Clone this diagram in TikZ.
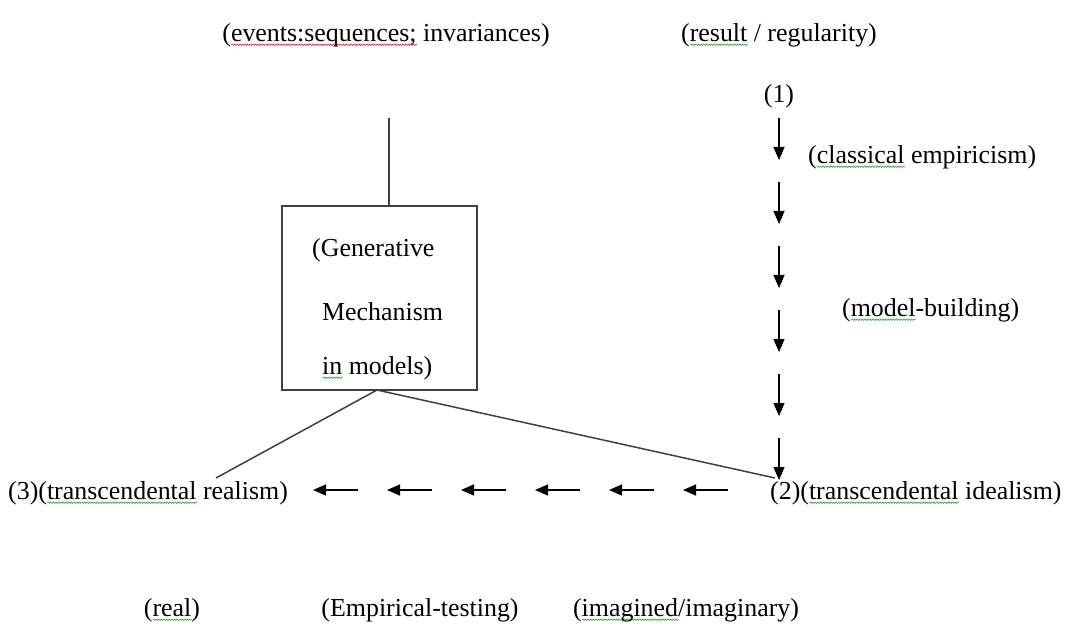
\documentclass[tikz,border=0pt]{standalone}
\usepackage{fontspec}
\setmainfont{Liberation Serif}
\usepackage{tikz}
\usetikzlibrary{positioning, arrows.meta, decorations.pathmorphing}

\definecolor{spellred}{RGB}{215,60,60}
\definecolor{spellgreen}{RGB}{70,165,70}
% wavy spell-check underline under one word
\newcommand{\wavy}[2]{\setbox0=\hbox{#2}\rlap{\tikz[baseline=0pt]\draw[#1, line width=0.7pt,
  decorate, decoration={snake, amplitude=0.7pt, segment length=2.6pt}] (0,-3.5pt) -- (\the\wd0,-3.5pt);}#2}

\begin{document}
\begin{tikzpicture}[x=1bp, y=-1bp,
    lbl/.style={inner sep=0pt, font=\fontsize{26}{30}\selectfont},
    gmbox/.style={draw=black!75, line width=1.5bp, minimum width=195bp, minimum height=184bp},
    link/.style={draw=black!75, line width=1.5bp},
    arr/.style={-{Triangle[length=13bp, width=11bp]}, line width=1.2bp}
  ]
    \useasboundingbox (0,0) rectangle (1076,639);
    % top labels
    \node[lbl] (ev) at (386,35) {(\wavy{spellred}{events:sequences;} invariances)};
    \node[lbl] (res) at (779,35) {(\wavy{spellgreen}{result} / regularity)};
    \node[lbl] (one) at (779,96) {(1)};
    \node[lbl, anchor=west] (clas) at (808,157) {(\wavy{spellgreen}{classical} empiricism)};
    \node[lbl, anchor=west] (mod) at (842,310) {(\wavy{spellgreen}{model}-building)};
    % generative mechanism box
    \node[gmbox] (gm) at (379.5,298) {};
    \node[lbl, anchor=west] (g1) at (312,250) {(Generative};
    \node[lbl, anchor=west] (g2) at (322,312) {Mechanism};
    \node[lbl, anchor=west] (g3) at (322,368) {\wavy{spellgreen}{in} models)};
    \coordinate (top) at (389,118);
    \draw[link] (gm.north -| top) -- (top);
    \coordinate (apex) at (377,390);
    \coordinate (lend) at (216,478);
    \coordinate (rend) at (775,478);
    \draw[link] (lend) -- (apex) -- (rend);
    % row
    \node[lbl, anchor=west] (three) at (8,493) {(3)(\wavy{spellgreen}{transcendental} realism)};
    \node[lbl, anchor=west] (two) at (770,493) {(2)(\wavy{spellgreen}{transcendental} idealism)};
    \foreach \k in {0,...,5}{
      \coordinate (va\k) at (779,118+64*\k);
      \coordinate (vb\k) at (779,160+64*\k);
      \draw[arr] (va\k) -- (vb\k);
      \coordinate (ha\k) at (313+74*\k,490);
      \coordinate (hb\k) at (358+74*\k,490);
      \draw[arr] (hb\k) -- (ha\k);
    }
    % bottom labels
    \node[lbl] (real) at (172,610) {(\wavy{spellgreen}{real})};
    \node[lbl] (emp) at (420,610) {(Empirical-testing)};
    \node[lbl] (imag) at (686,610) {(\wavy{spellgreen}{imagined}/imaginary)};
  \end{tikzpicture}
\end{document}
